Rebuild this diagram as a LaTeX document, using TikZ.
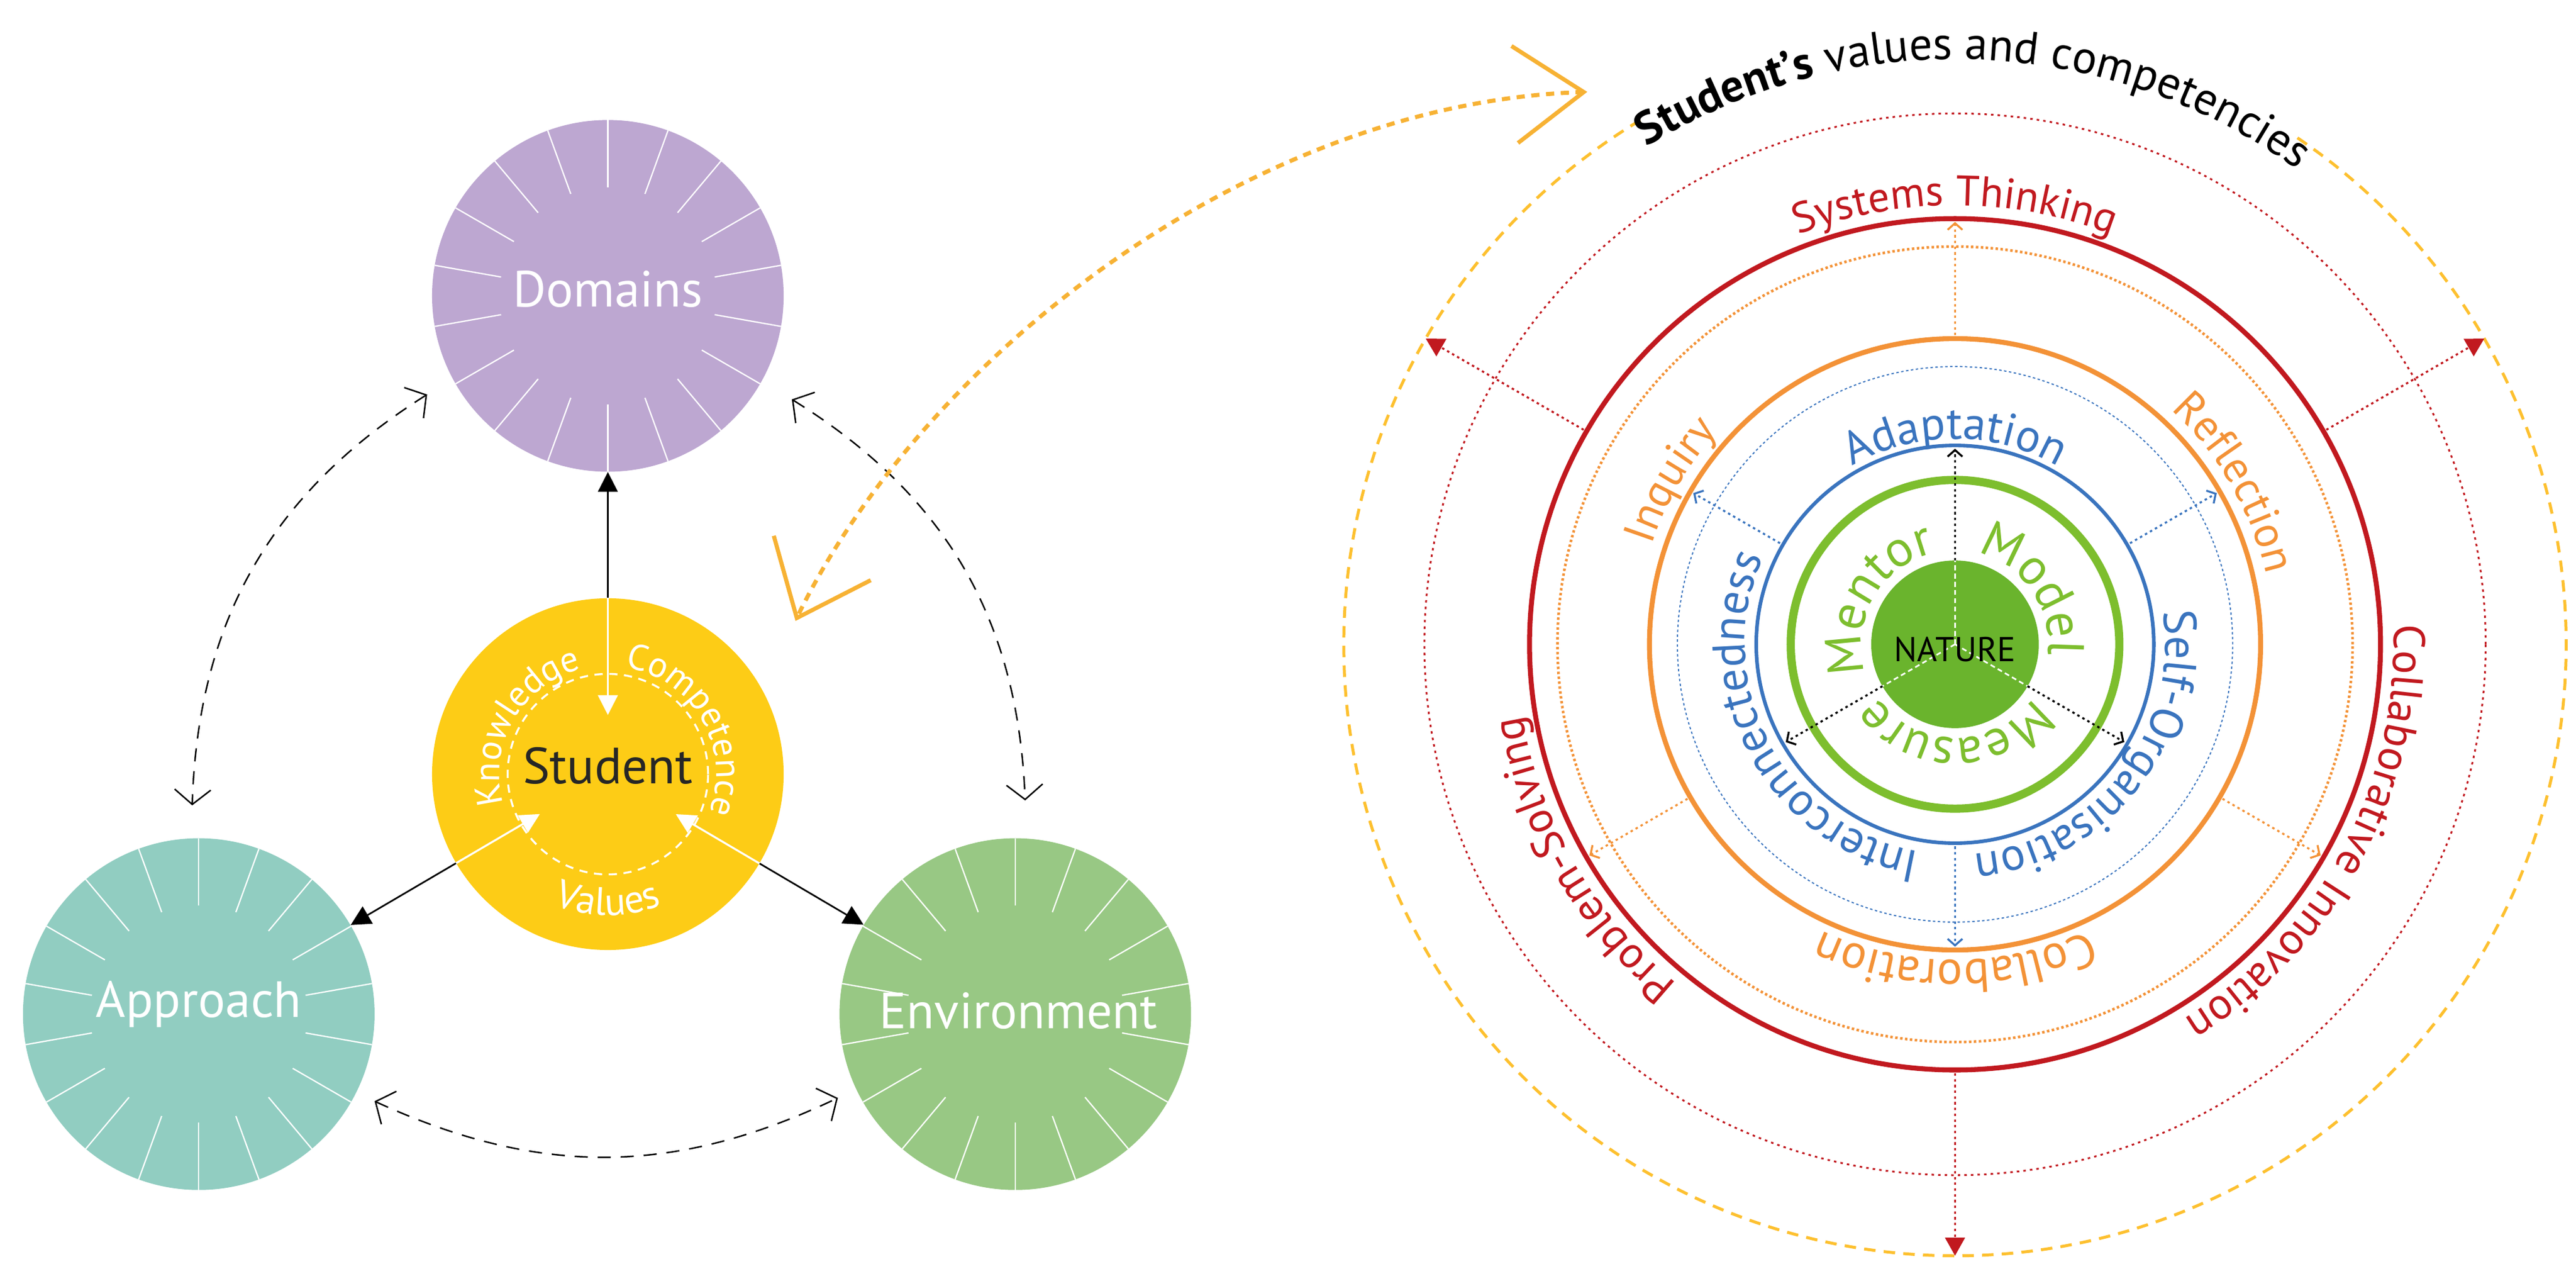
\documentclass[tikz,border=0pt]{standalone}
\usepackage{fontspec}
\setmainfont{PT Sans}
\usetikzlibrary{arrows.meta,decorations.text,calc}
\definecolor{cdom}{HTML}{BDA7D1}
\definecolor{cstu}{HTML}{FDCC16}
\definecolor{capp}{HTML}{91CDC1}
\definecolor{cenv}{HTML}{98C884}
\definecolor{cnat}{HTML}{6AB42D}
\definecolor{cgrn}{HTML}{7DBE2E}
\definecolor{cblu}{HTML}{3A74BE}
\definecolor{cora}{HTML}{F39237}
\definecolor{cred}{HTML}{C1191F}
\definecolor{cyel}{HTML}{FDC02F}
\definecolor{ccur}{HTML}{F7B234}
\newcommand\ctext[5]{\path[decorate,decoration={text along path,text align=center,text={|#4|#5}}] (#2:#1) arc[start angle=#2,end angle=#3,radius=#1];}
\begin{document}
\begin{tikzpicture}[x=1pt,y=1pt,
  big/.style={circle,minimum size=214pt,inner sep=0pt},
  lbl/.style={text=white,font=\fontsize{31}{31}\selectfont},
  tick/.style={white,line width=0.8pt},
  dbl/.style={black,line width=0.9pt,dash pattern=on 8pt off 6pt,{Straight Barb[length=9pt,width=22pt]}-{Straight Barb[length=9pt,width=22pt]}},
  conn/.style={black,line width=1pt,-{Triangle[length=12pt,width=12pt]}},
  wconn/.style={white,line width=1.2pt,-{Triangle[length=12pt,width=12pt]}},
  rarr/.style={line width=1.2pt,dash pattern=on 1.5pt off 2pt},
]
\useasboundingbox (0,0) rectangle (1568,-772);
% ---------------- left part
\node[big,fill=cdom] (dom) at (370,-180) {};
\node[big,fill=cstu] (stu) at (370,-471) {};
\node[big,fill=capp] (app) at (121,-617) {};
\node[big,fill=cenv] (env) at (618,-617) {};
\foreach \n in {dom,app,env}{
  \foreach \a in {10,30,...,350}{\draw[tick] ($(\n)+(\a:66)$) -- ($(\n)+(\a:107)$);}}
\node[lbl] (ldom) at (370,-176) {Domains};
\node[lbl] (lapp) at (121,-611) {Approach};
\node[lbl] (lenv) at (620,-615) {Environment};
\node[font=\fontsize{31}{31}\selectfont,text={black!85}] (lstu) at (370,-466) {Student};
\draw[white,line width=1.2pt,dash pattern=on 5pt off 4pt] (stu) circle[radius=61];
\begin{scope}[shift={(370,-471)}]
\ctext{66}{225}{75}{\fontsize{22}{22}\selectfont\color{white}}{Knowledge}
\ctext{66}{105}{-45}{\fontsize{22}{22}\selectfont\color{white}}{Competence}
\ctext{86}{210}{330}{\fontsize{24}{24}\selectfont\color{white}}{Values}
\end{scope}
\draw[conn] (stu) -- (dom);
\draw[conn] (stu) -- (app);
\draw[conn] (stu) -- (env);
\draw[wconn] (stu.north) -- ($(stu.center)!36pt!(dom.center)$);
\draw[wconn] ($(stu.center)!107pt!(app.center)$) -- ($(stu.center)!48pt!(app.center)$);
\draw[wconn] ($(stu.center)!107pt!(env.center)$) -- ($(stu.center)!48pt!(env.center)$);
\coordinate (da1) at (260,-240); \coordinate (da2) at (117,-490);
\coordinate (de1) at (482,-243); \coordinate (de2) at (624,-487);
\coordinate (ae1) at (228,-670); \coordinate (ae2) at (510,-668);
\draw[dbl] (da1) to[bend right=28] (da2);
\draw[dbl] (de1) to[bend left=28] (de2);
\draw[dbl] (ae1) to[bend right=25] (ae2);
% orange curved link
\coordinate (c1) at (964,-56); \coordinate (c2) at (485,-376);
\draw[ccur,line width=2.5pt,dash pattern=on 5pt off 4pt] (c1) .. controls (760,-62) and (560,-220) .. (c2);
\draw[ccur,line width=2.5pt] (920,-28) -- (c1) -- (924,-87);
\draw[ccur,line width=2.5pt] (471,-326) -- (c2) -- (530,-353);
% ---------------- right part
\begin{scope}[shift={(1190,-392)}]
\draw[cyel,line width=1.8pt,dash pattern=on 7pt off 5pt] (121:372) arc[start angle=121,end angle=416,radius=372];
\draw[cred,line width=1.1pt,dash pattern=on 1.5pt off 2.5pt] (0,0) circle[radius=323];
\draw[cred,line width=3pt] (0,0) circle[radius=259];
\draw[cora,line width=1.6pt,dash pattern=on 1.5pt off 1.5pt] (0,0) circle[radius=242];
\draw[cora,line width=3pt] (0,0) circle[radius=186];
\draw[cblu,line width=0.7pt,dash pattern=on 1.5pt off 1.5pt] (0,0) circle[radius=169];
\draw[cblu,line width=2.2pt] (0,0) circle[radius=121];
\draw[cgrn,line width=5pt] (0,0) circle[radius=100];
\fill[cnat] (0,0) circle[radius=51];
\foreach \a in {90,210,330}{
  \draw[white,line width=1pt,dash pattern=on 3pt off 2pt] (0,0) -- (\a:51);
  \draw[black,rarr,-{Straight Barb[length=4pt,width=9pt]}] (\a:51) -- (\a:119);
  \draw[cora,rarr,-{Straight Barb[length=4pt,width=9pt]}] (\a:188) -- (\a:257);}
\foreach \a in {30,150,270}{
  \draw[cblu,rarr,-{Straight Barb[length=4pt,width=9pt]}] (\a:123) -- (\a:184);
  \draw[cred,rarr,-{Triangle[length=11pt,width=12pt]}] (\a:261) -- (\a:372);}
\node[font=\fontsize{21}{21}\selectfont,text=black] (nat) at (0,-3) {NATURE};
\ctext{356}{178}{-2}{\fontsize{28}{28}\selectfont\color{black}\bfseries}{Student’s|\fontsize{28}{28}\selectfont\color{black}\mdseries| values and competencies}
\ctext{267}{170}{10}{\fontsize{26}{26}\selectfont\color{cred}}{Systems Thinking}
\ctext{267}{62}{-118}{\fontsize{27}{27}\selectfont\color{cred}}{Collaborative Innovation}
\ctext{267}{290}{130}{\fontsize{27}{27}\selectfont\color{cred}}{Problem-Solving}
\ctext{194}{230}{70}{\fontsize{27}{27}\selectfont\color{cora}}{Inquiry}
\ctext{194}{110}{-50}{\fontsize{27}{27}\selectfont\color{cora}}{Reflection}
\ctext{192}{350}{190}{\fontsize{29}{29}\selectfont\color{cora}}{Collaboration}
\ctext{125}{175}{5}{\fontsize{28}{28}\selectfont\color{cblu}}{Adaptation}
\ctext{128}{305}{111}{\fontsize{28}{28}\selectfont\color{cblu}}{Interconnectedness}
\ctext{128}{59}{-135}{\fontsize{28}{28}\selectfont\color{cblu}}{Self-Organisation}
\ctext{57}{240}{60}{\fontsize{31}{31}\selectfont\color{cgrn}}{Mentor}
\ctext{57}{125}{-55}{\fontsize{31}{31}\selectfont\color{cgrn}}{Model}
\ctext{57}{360}{180}{\fontsize{31}{31}\selectfont\color{cgrn}}{Measure}
\end{scope}
\end{tikzpicture}
\end{document}
